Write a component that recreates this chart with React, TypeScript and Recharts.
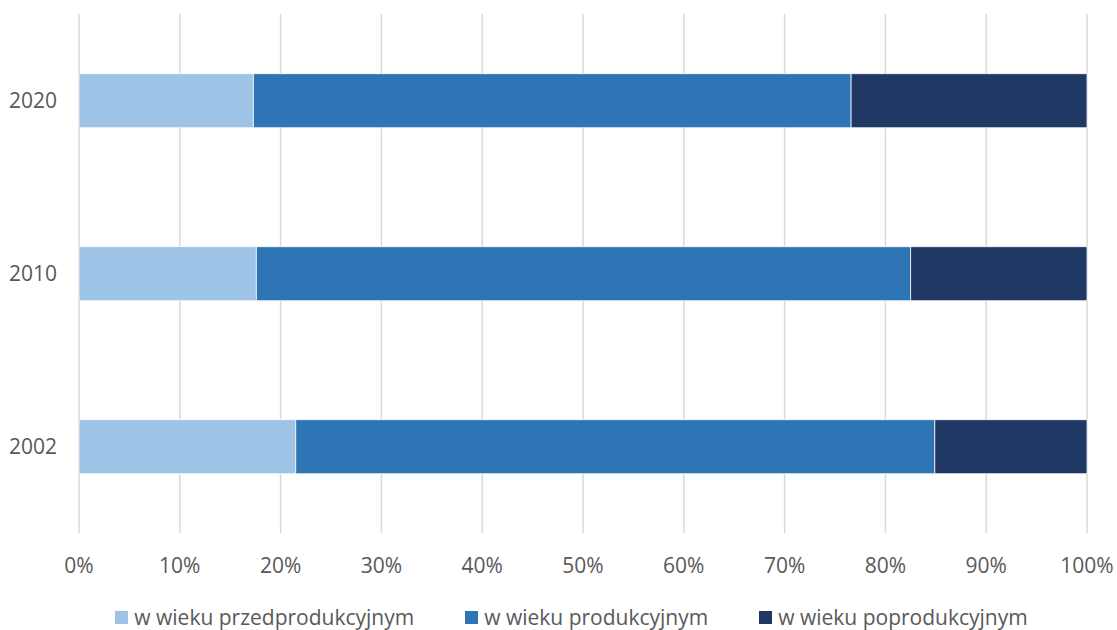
import React from "react";
import { BarChart, Bar, XAxis, YAxis, CartesianGrid, Legend } from "recharts";

const years = ["2020", "2010", "2002"];
const przed = [17.3, 17.6, 21.5];
const prod = [59.3, 64.9, 63.4];
const po = [23.4, 17.5, 15.1];
const xTicks = [0, 10, 20, 30, 40, 50, 60, 70, 80, 90, 100];

const seriesNames = ["w wieku przedprodukcyjnym", "w wieku produkcyjnym", "w wieku poprodukcyjnym"];
const seriesColors = ["#9DC3E6", "#2E75B6", "#203864"];

const data = years.map((y, i) => ({ year: y, przed: przed[i], prod: prod[i], po: po[i] }));

const FONT = "'Open Sans', sans-serif";

const renderLegend = (props: any) => {
  const payload = [...(props.payload || [])].sort(
    (a: any, b: any) => seriesNames.indexOf(a.value) - seriesNames.indexOf(b.value)
  );
  return (
    <div style={{ height: 47, display: "flex", justifyContent: "center", alignItems: "flex-end", fontFamily: FONT, paddingLeft: 56, paddingBottom: 0, boxSizing: "border-box" }}>
      {payload.map((p: any, i: number) => (
        <div key={i} style={{ display: "flex", alignItems: "center", marginRight: i < payload.length - 1 ? 51 : 0, height: 26 }}>
          <span style={{ display: "inline-block", width: 13, height: 13, background: p.color, marginRight: 6 }} />
          <span style={{ fontSize: 21, color: "#595959" }}>{p.value}</span>
        </div>
      ))}
    </div>
  );
};

export default function App() {
  return (
    <div style={{ position: "absolute", left: 0, top: 0, width: 1117, height: 630, background: "#fff" }}>
      <BarChart
        width={1117}
        height={630}
        data={data}
        layout="vertical"
        margin={{ top: 14, right: 30, left: 0, bottom: 0 }}
        barCategoryGap="34.5%"
      >
        <CartesianGrid horizontal={false} stroke="#D9D9D9" strokeWidth={1.5} />
        <XAxis
          type="number"
          domain={[0, 100]}
          ticks={xTicks}
          tickFormatter={(v: number) => `${v}%`}
          axisLine={false}
          tickLine={false}
          height={50}
          tickMargin={19}
          tick={{ fill: "#595959", fontSize: 21, fontFamily: FONT }}
          interval={0}
        />
        <YAxis
          type="category"
          dataKey="year"
          width={79}
          axisLine={false}
          tickLine={false}
          tickMargin={16}
          tick={{ fill: "#595959", fontSize: 21, fontFamily: FONT }}
        />
        <Legend verticalAlign="bottom" content={renderLegend} />
        <Bar dataKey="przed" name={seriesNames[0]} stackId="a" fill={seriesColors[0]} stroke="#fff" strokeWidth={0.75} isAnimationActive={false} />
        <Bar dataKey="prod" name={seriesNames[1]} stackId="a" fill={seriesColors[1]} stroke="#fff" strokeWidth={0.75} isAnimationActive={false} />
        <Bar dataKey="po" name={seriesNames[2]} stackId="a" fill={seriesColors[2]} stroke="#fff" strokeWidth={0.75} isAnimationActive={false} />
      </BarChart>
    </div>
  );
}
